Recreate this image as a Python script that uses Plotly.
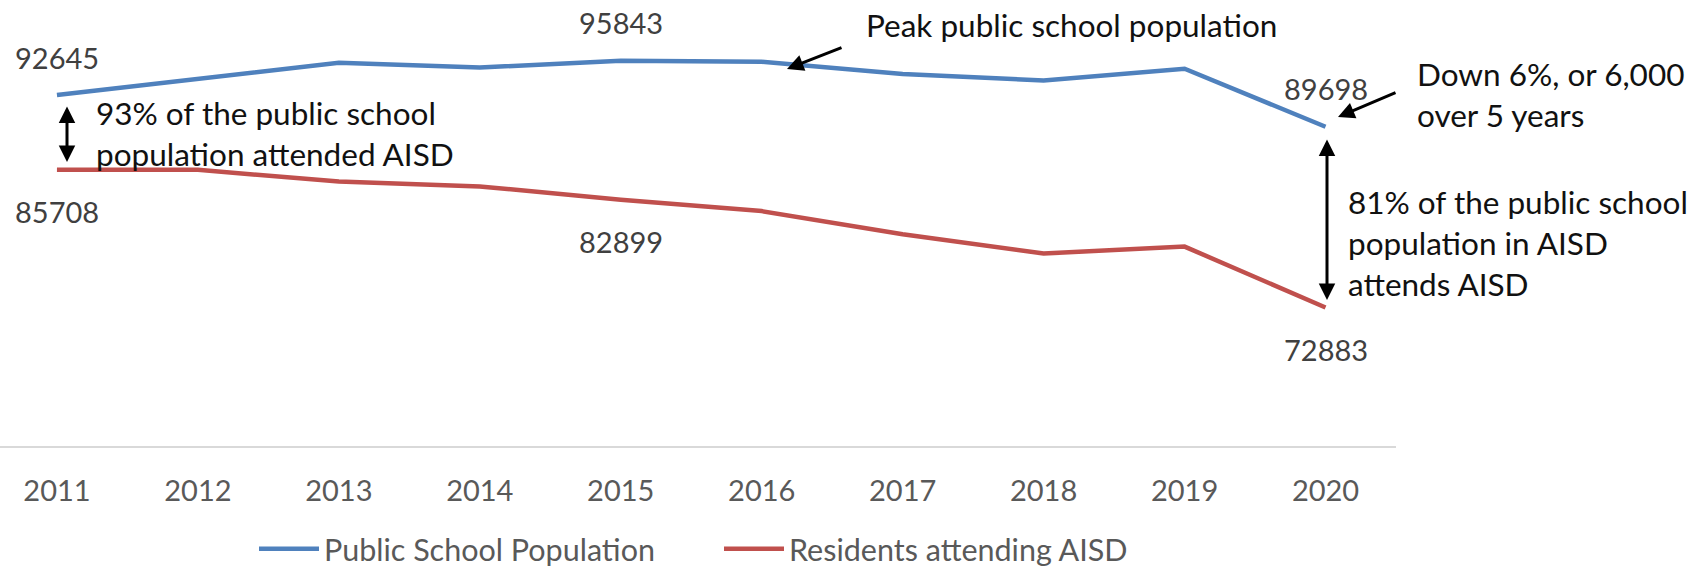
import plotly.graph_objects as go

# ---- data ----
years = ["2011", "2012", "2013", "2014", "2015", "2016", "2017", "2018", "2019", "2020"]
public_school = [92645, 94100, 95650, 95200, 95843, 95750, 94600, 94000, 95100, 89698]
residents_aisd = [85708, 85690, 84600, 84150, 82899, 81850, 79700, 77900, 78550, 72883]
label_idx = [0, 4, 9]

series_names = ["Public School Population", "Residents attending AISD"]
colors = ["#4F81BD", "#C0504D"]

FONT = "Lato"
W, H = 1697, 573
ML, MR, MT, MB = 0, 301, 16, 127
PW = W - ML - MR
PH = H - MT - MB


def px_x(p):
    return (p - ML) / PW


def px_y(p):
    return (H - MB - p) / PH


fig = go.Figure()
fig.add_trace(go.Scatter(x=years, y=public_school, mode="lines", name=series_names[0],
                         line=dict(color=colors[0], width=4.5), legend="legend"))
fig.add_trace(go.Scatter(x=years, y=residents_aisd, mode="lines", name=series_names[1],
                         line=dict(color=colors[1], width=4.5), legend="legend2"))

annotations = []
# data labels
lab_font = dict(family=FONT, size=29, color="#404040")
for i in label_idx:
    annotations.append(dict(x=i, y=public_school[i], xref="x", yref="y",
                            text=str(public_school[i]), showarrow=False, yshift=38,
                            font=lab_font))
    annotations.append(dict(x=i, y=residents_aisd[i], xref="x", yref="y",
                            text=str(residents_aisd[i]), showarrow=False, yshift=-42,
                            font=lab_font))

txt_font = dict(family=FONT, size=31.5, color="#111111")
annotations += [
    dict(xref="paper", yref="paper", x=px_x(94), y=px_y(133), xanchor="left", yanchor="middle",
         text="93% of the public school<br>population attended AISD", showarrow=False,
         align="left", font=txt_font),
    dict(xref="paper", yref="paper", x=px_x(864), y=px_y(25), xanchor="left", yanchor="middle",
         text="Peak public school population", showarrow=False, align="left", font=txt_font),
    dict(xref="paper", yref="paper", x=px_x(1415), y=px_y(95), xanchor="left", yanchor="middle",
         text="Down 6%, or 6,000<br>over 5 years", showarrow=False, align="left", font=txt_font),
    dict(xref="paper", yref="paper", x=px_x(1346), y=px_y(243), xanchor="left", yanchor="middle",
         text="81% of the public school<br>population in AISD<br>attends AISD", showarrow=False,
         align="left", font=txt_font),
]

# arrows (positions in paper space)
arrow_style = dict(text="", showarrow=True, arrowcolor="black", arrowwidth=3,
                   arrowhead=2, arrowsize=1.1)
annotations += [
    dict(xref="paper", yref="paper", x=px_x(787), y=px_y(69),
         axref="pixel", ayref="pixel", ax=56, ay=-22, **arrow_style),
    dict(xref="paper", yref="paper", x=px_x(1338), y=px_y(117),
         axref="pixel", ayref="pixel", ax=59, ay=-25, **arrow_style),
    dict(xref="paper", yref="paper", x=px_x(67), y=px_y(162),
         axref="pixel", ayref="pixel", ax=0, ay=-57, arrowside="end+start", **arrow_style),
    dict(xref="paper", yref="paper", x=px_x(1327), y=px_y(300),
         axref="pixel", ayref="pixel", ax=0, ay=-162, arrowside="end+start", **arrow_style),
]

leg_font = dict(family=FONT, size=30.5, color="#595959")
fig.update_layout(
    width=W, height=H, autosize=False,
    margin=dict(l=ML, r=MR, t=MT, b=MB, pad=0, autoexpand=False),
    paper_bgcolor="white", plot_bgcolor="white",
    font=dict(family=FONT, size=29, color="#595959"),
    showlegend=True,
    legend=dict(orientation="h", x=px_x(254), y=px_y(549), xanchor="left", yanchor="middle",
                font=leg_font, itemwidth=60, bgcolor="rgba(0,0,0,0)"),
    legend2=dict(orientation="h", x=px_x(719), y=px_y(549), xanchor="left", yanchor="middle",
                 font=leg_font, itemwidth=60, bgcolor="rgba(0,0,0,0)"),
    annotations=annotations,
    xaxis=dict(type="category", range=[-0.404, 9.5], showgrid=False, showline=True,
               linecolor="#D9D9D9", linewidth=1.5, ticks="", ticklabelstandoff=18,
               tickfont=dict(family=FONT, size=29, color="#595959"), fixedrange=True),
    yaxis=dict(range=[60000, 100000], showgrid=False, showline=False, zeroline=False,
               showticklabels=False, ticks="", fixedrange=True),
)

fig.write_html("out.html", config={"displayModeBar": False},
               post_script="document.body.style.margin='0';")
